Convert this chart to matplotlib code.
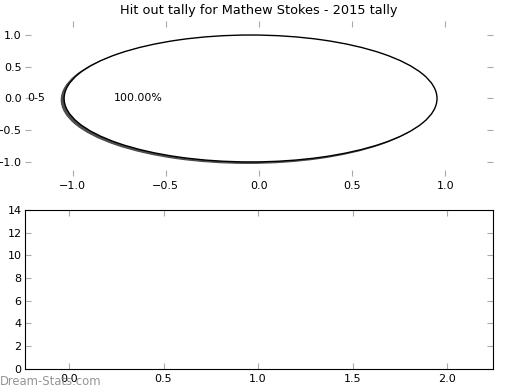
import matplotlib
matplotlib.use('Agg')
import matplotlib.pyplot as plt

title = 'Hit out tally for Mathew Stokes - 2015 tally'
labels = ['0-5']
sizes = [1]
bar_xlim = (-0.233, 2.243)
bar_ylim = (0, 14)

fig = plt.figure(figsize=(5.2, 3.9), dpi=100)
fig.text(0.0, 0.013, 'Dream-Stats.com', color='#8a8a8a', fontsize=8.4, alpha=0.9)

ax1 = fig.add_axes([0.048, 0.549, 0.9, 0.397])
# shadow: same pie, shifted a bit down-left, drawn underneath
ax1.pie(sizes, center=(-0.06, -0.022), frame=True, colors=['#4d4d4d'],
        wedgeprops={'edgecolor': '#4d4d4d', 'linewidth': 0.9})
ax1.pie(sizes, labels=labels, autopct='%1.2f%%', center=(-0.045, 0), frame=True,
        colors=['white'], wedgeprops={'edgecolor': 'black', 'linewidth': 1.0},
        textprops={'fontsize': 7.9})
ax1.set_aspect('auto')
ax1.set_xlim(-1.255, 1.255)
ax1.set_ylim(-1.22, 1.22)
ax1.set_xticks([-1.0, -0.5, 0.0, 0.5, 1.0])
ax1.set_yticks([-1.0, -0.5, 0.0, 0.5, 1.0])
for s in ax1.spines.values():
    s.set_visible(False)
ax1.set_title(title, fontsize=9.3, pad=5)

ax2 = fig.add_axes([0.048, 0.054, 0.9, 0.408], zorder=2)
ax2.patch.set_alpha(0)
ax2.set_xlim(*bar_xlim)
ax2.set_ylim(*bar_ylim)
ax2.set_xticks([0.0, 0.5, 1.0, 1.5, 2.0])
ax2.set_yticks(range(0, 15, 2))

for ax in (ax1, ax2):
    ax.tick_params(direction='in', length=4, color='#aaaaaa', labelsize=8,
                   top=True, right=True)
    ax.tick_params(axis='y', pad=2.5)
    ax.tick_params(axis='x', pad=4)

fig.savefig('out.png', dpi=100)
